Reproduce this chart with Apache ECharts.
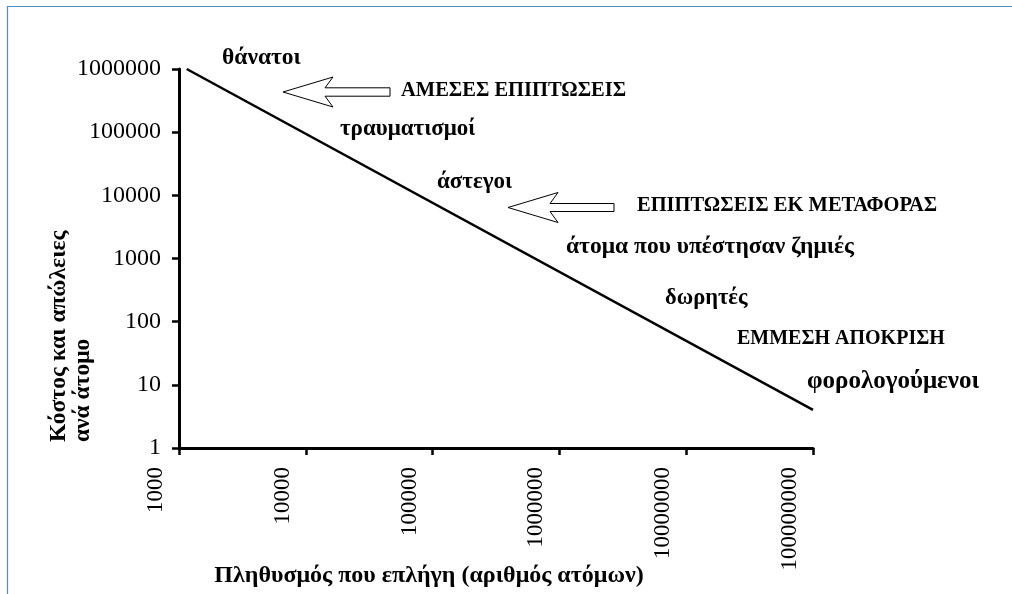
<!DOCTYPE html>
<html>
<head>
<meta charset="utf-8">
<script src="https://cdn.jsdelivr.net/npm/echarts@6/dist/echarts.min.js"></script>
<style>
  html, body { margin: 0; padding: 0; background: #fff; }
  #chart { width: 1012px; height: 594px; }
</style>
</head>
<body>
<div id="chart"></div>
<script>
// Log–log relation: population affected vs. cost and loss per person
const xTicks = [1000, 10000, 100000, 1000000, 10000000, 100000000];
const yTicks = [1, 10, 100, 1000, 10000, 100000, 1000000];
const population = [1150, 100000000];
const costPerPerson = [1000000, 4];

const xTitle = 'Πληθυσμός που επλήγη (αριθμός ατόμων)';
const yTitleLines = ['Κόστος και απώλειες', 'ανά άτομο'];

// Group labels along the line and the impact headings
const notes = [
  { text: 'θάνατοι', x: 222, y: 58, size: 23.5 },
  { text: 'ΑΜΕΣΕΣ ΕΠΙΠΤΩΣΕΙΣ', x: 401, y: 91, size: 20.5 },
  { text: 'τραυματισμοί', x: 340, y: 129, size: 23 },
  { text: 'άστεγοι', x: 437, y: 182, size: 23 },
  { text: 'ΕΠΙΠΤΩΣΕΙΣ ΕΚ ΜΕΤΑΦΟΡΑΣ', x: 637, y: 206, size: 20.5 },
  { text: 'άτομα που υπέστησαν ζημιές', x: 566, y: 247, size: 23.5 },
  { text: 'δωρητές', x: 665, y: 298, size: 22.5 },
  { text: 'ΕΜΜΕΣΗ ΑΠΟΚΡΙΣΗ', x: 737, y: 339, size: 20 },
  { text: 'φορολογούμενοι', x: 807, y: 382, size: 25 }
];

const FONT = "'Liberation Serif', 'DejaVu Serif', serif";

// Outlined block arrow pointing left: tip, barb, notch and tail positions
function blockArrow(tipX, tipY, barbX, notchX, tailX, halfHead, halfShaft) {
  return [
    [tipX, tipY],
    [barbX, tipY - halfHead],
    [notchX, tipY - halfShaft],
    [tailX, tipY - halfShaft],
    [tailX, tipY + halfShaft],
    [notchX, tipY + halfShaft],
    [barbX, tipY + halfHead]
  ];
}

const graphics = [
  {
    type: 'rect', silent: true, z: 0,
    shape: { x: 7.5, y: 6.5, width: 1040, height: 640 },
    style: { fill: 'none', stroke: '#4a8fc0', lineWidth: 1.2 }
  },
  {
    type: 'polygon', z: 5,
    shape: { points: blockArrow(283, 92, 333, 325, 390, 15, 4.2) },
    style: { fill: '#fff', stroke: '#000', lineWidth: 1 }
  },
  {
    type: 'polygon', z: 5,
    shape: { points: blockArrow(508, 207.5, 558, 550, 614, 15, 4) },
    style: { fill: '#fff', stroke: '#000', lineWidth: 1 }
  },
  {
    type: 'text', z: 5, x: 429, y: 576,
    style: {
      text: xTitle, font: "bold 24px " + FONT, fill: '#000',
      align: 'center', verticalAlign: 'middle'
    }
  },
  {
    type: 'text', z: 5, x: 59, y: 442, rotation: Math.PI / 2,
    style: {
      text: yTitleLines[0], font: "bold 23.5px " + FONT, fill: '#000',
      align: 'left', verticalAlign: 'middle'
    }
  },
  {
    type: 'text', z: 5, x: 83, y: 442, rotation: Math.PI / 2,
    style: {
      text: yTitleLines[1], font: "bold 23.5px " + FONT, fill: '#000',
      align: 'left', verticalAlign: 'middle'
    }
  }
].concat(notes.map(n => ({
  type: 'text', z: 5, x: n.x, y: n.y,
  style: {
    text: n.text, font: 'bold ' + n.size + 'px ' + FONT, fill: '#000',
    align: 'left', verticalAlign: 'middle'
  }
})));

function tickText(list, v) {
  const hit = list.find(t => Math.abs(Math.log10(t) - Math.log10(v)) < 1e-6);
  return hit === undefined ? '' : String(hit);
}

const chart = echarts.init(document.getElementById('chart'), null, { renderer: 'canvas' });

chart.setOption({
  backgroundColor: '#fff',
  animation: false,
  grid: { left: 179, right: 199, top: 69, bottom: 146, containLabel: false },
  xAxis: {
    type: 'log', logBase: 10, min: xTicks[0], max: xTicks[xTicks.length - 1],
    axisLine: { show: true, lineStyle: { color: '#000', width: 3 } },
    axisTick: { show: true, inside: false, length: 7, lineStyle: { color: '#000', width: 2.5 } },
    splitLine: { show: false },
    minorTick: { show: false },
    axisLabel: {
      rotate: 90, margin: 19,
      formatter: v => '{a|' + tickText(xTicks, v) + '}',
      rich: {
        a: { fontFamily: FONT, fontSize: 23, color: '#000', padding: [0, 0, 46, 0] }
      }
    }
  },
  yAxis: {
    type: 'log', logBase: 10, min: yTicks[0], max: yTicks[yTicks.length - 1],
    axisLine: { show: true, lineStyle: { color: '#000', width: 3 } },
    axisTick: { show: true, inside: false, length: 7, lineStyle: { color: '#000', width: 2.5 } },
    splitLine: { show: false },
    minorTick: { show: false },
    axisLabel: {
      margin: 18, fontFamily: FONT, fontSize: 24, color: '#000',
      formatter: v => tickText(yTicks, v)
    }
  },
  series: [{
    type: 'line',
    data: population.map((p, i) => [p, costPerPerson[i]]),
    symbol: 'none',
    lineStyle: { color: '#000', width: 2.5 },
    z: 3
  }],
  graphic: graphics
});
</script>
</body>
</html>
